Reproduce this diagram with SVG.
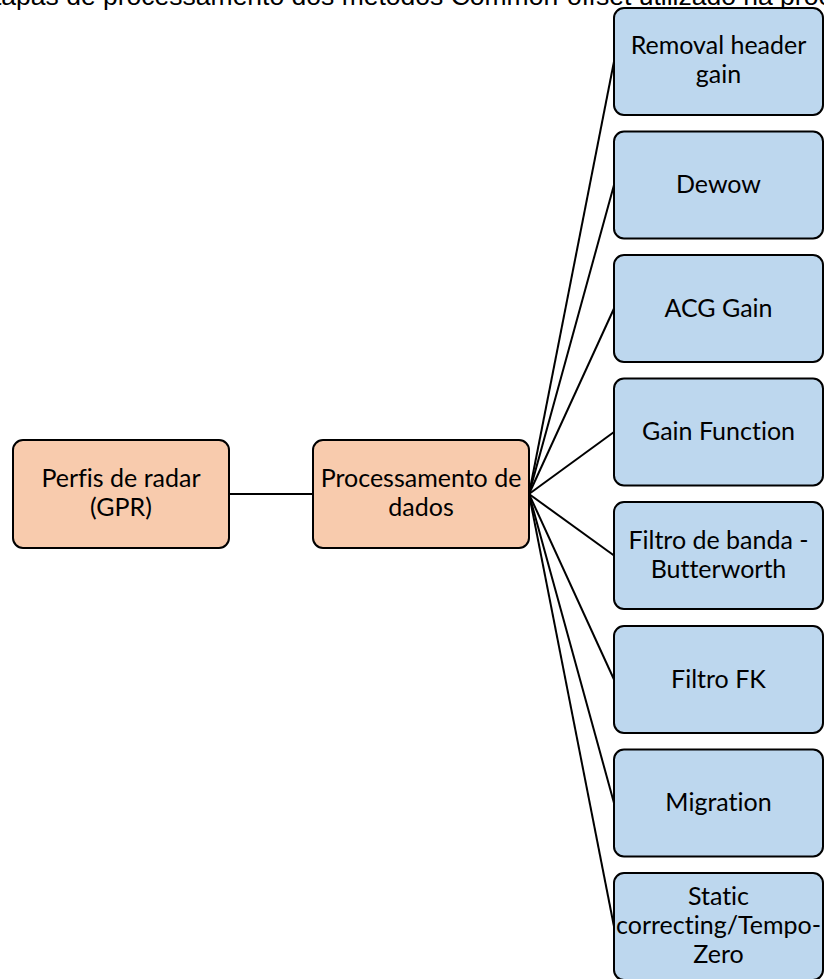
<svg xmlns="http://www.w3.org/2000/svg" width="824" height="979" viewBox="0 0 824 979">
<style>
.title{font-family:"Liberation Sans",Arial,sans-serif;font-size:26.5px;fill:#000}
.lbl{font-family:Lato,"Noto Sans",sans-serif;font-size:25px;fill:#000;text-anchor:middle;font-variant-ligatures:none;font-feature-settings:"liga" 0}
.org{fill:#F8CBAD;stroke:#000;stroke-width:2}
.blu{fill:#BDD7EE;stroke:#000;stroke-width:2}
.con line{stroke:#000;stroke-width:2}
</style>
<rect width="824" height="979" fill="#fff"/>
<text class="title" x="-6" y="5">tapas de processamento dos métodos Common-offset utilizado na proc</text>
<g id="connectors" class="con">
<line x1="229" y1="494" x2="313" y2="494"/>
<line x1="529" y1="494" x2="614" y2="61.5"/>
<line x1="529" y1="494" x2="614" y2="185"/>
<line x1="529" y1="494" x2="614" y2="308.5"/>
<line x1="529" y1="494" x2="614" y2="432"/>
<line x1="529" y1="494" x2="614" y2="555.5"/>
<line x1="529" y1="494" x2="614" y2="679.5"/>
<line x1="529" y1="494" x2="614" y2="803"/>
<line x1="529" y1="494" x2="614" y2="926.5"/>
</g>
<g id="n-perfis"><rect class="org" x="13" y="440" width="216" height="108" rx="10"/><text class="lbl" x="121" y="487">Perfis de radar</text><text class="lbl" x="121" y="516">(GPR)</text></g>
<g id="n-proc"><rect class="org" x="313" y="440" width="216" height="108" rx="10"/><text class="lbl" x="421" y="487">Processamento de</text><text class="lbl" x="421" y="516">dados</text></g>
<g id="n-removal"><rect class="blu" x="614" y="8" width="209" height="107" rx="10"/><text class="lbl" x="718.5" y="54">Removal header</text><text class="lbl" x="718.5" y="83">gain</text></g>
<g id="n-dewow"><rect class="blu" x="614" y="131.5" width="209" height="107" rx="10"/><text class="lbl" x="718.5" y="193">Dewow</text></g>
<g id="n-acg"><rect class="blu" x="614" y="255" width="209" height="107" rx="10"/><text class="lbl" x="718.5" y="316.5">ACG Gain</text></g>
<g id="n-gainf"><rect class="blu" x="614" y="378.5" width="209" height="107" rx="10"/><text class="lbl" x="718.5" y="440">Gain Function</text></g>
<g id="n-butter"><rect class="blu" x="614" y="502" width="209" height="107" rx="10"/><text class="lbl" x="718.5" y="549">Filtro de banda -</text><text class="lbl" x="718.5" y="578">Butterworth</text></g>
<g id="n-fk"><rect class="blu" x="614" y="626" width="209" height="107" rx="10"/><text class="lbl" x="718.5" y="687.5">Filtro FK</text></g>
<g id="n-migr"><rect class="blu" x="614" y="749.5" width="209" height="107" rx="10"/><text class="lbl" x="718.5" y="811">Migration</text></g>
<g id="n-static"><rect class="blu" x="614" y="873" width="209" height="107" rx="10"/><text class="lbl" x="718.5" y="905">Static</text><text class="lbl" x="718.5" y="934">correcting/Tempo-</text><text class="lbl" x="718.5" y="963">Zero</text></g>
</svg>
